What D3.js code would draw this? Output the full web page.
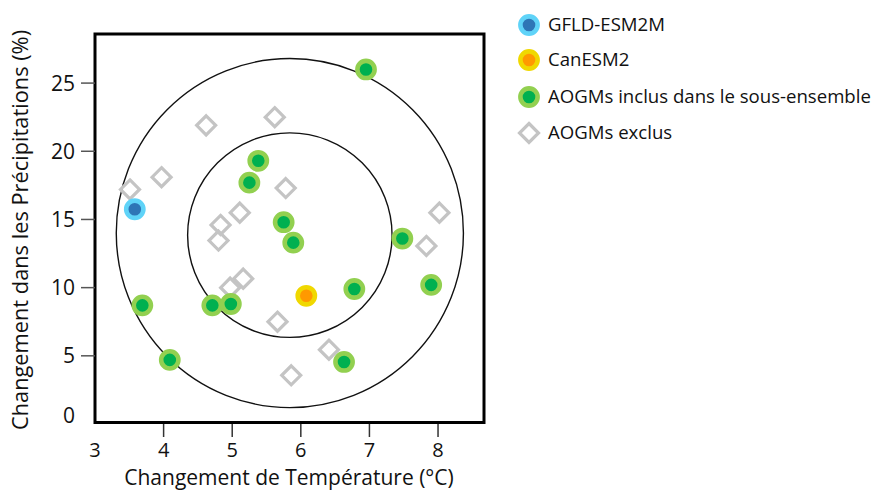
<!DOCTYPE html>
<html><head><meta charset="utf-8">
<script src="https://cdn.jsdelivr.net/npm/d3@7/dist/d3.min.js"></script>
<style>body{margin:0;background:#fff}svg{display:block}text{font-family:"Open Sans",sans-serif;fill:#111}</style>
</head><body><svg id="c" width="880" height="491"></svg>
<script>
const xTicks = [4, 5, 6, 7, 8];
const xTickLabels = ["3", "4", "5", "6", "7", "8"];
const yTicks = [5, 10, 15, 20, 25];
const yTickLabels = ["0", "5", "10", "15", "20", "25"];
const xTitle = "Changement de Température (°C)";
const yTitle = "Changement dans les Précipitations (%)";

const gfdlX = [3.58], gfdlY = [15.75];
const canX = [6.08], canY = [9.4];
const inclX = [6.95, 5.38, 5.25, 5.75, 5.89, 7.48, 7.90, 6.78, 3.69, 4.71, 4.98, 4.09, 6.63];
const inclY = [26.0, 19.3, 17.7, 14.8, 13.3, 13.6, 10.2, 9.9, 8.7, 8.7, 8.8, 4.7, 4.55];
const exclX = [4.62, 5.62, 3.97, 3.51, 5.78, 5.11, 4.83, 4.80, 8.02, 7.83, 5.16, 4.97, 5.66, 6.41, 5.86];
const exclY = [21.9, 22.5, 18.1, 17.2, 17.3, 15.5, 14.6, 13.45, 15.5, 13.06, 10.66, 10.0, 7.5, 5.45, 3.57];

// rings: centre and radii in data units
const ringCx = [5.84, 5.84], ringCy = [14.0, 13.85];
const ringRx = [2.53, 1.49], ringRy = [12.8, 7.5];

const legendLabels = ["GFLD-ESM2M", "CanESM2", "AOGMs inclus dans le sous-ensemble", "AOGMs exclus"];

const svg = d3.select("#c");
const L = 95, R = 484, T = 34, B = 424;
const x = d3.scaleLinear().domain([3, 8.67]).range([L, R]);
const y = d3.scaleLinear().domain([0, 28.6]).range([B, T]);

// rings
ringCx.forEach((cx, i) => {
  svg.append("ellipse").attr("cx", x(cx)).attr("cy", y(ringCy[i]))
    .attr("rx", x(cx + ringRx[i]) - x(cx)).attr("ry", y(0) - y(ringRy[i]))
    .attr("fill", "none").attr("stroke", "#111").attr("stroke-width", 1.4);
});

// box
svg.append("rect").attr("x", L).attr("y", T).attr("width", R - L).attr("height", B - T - 1.5)
  .attr("fill", "none").attr("stroke", "#000").attr("stroke-width", 3);

// x ticks
const xa = svg.append("g");
xTicks.forEach(t => xa.append("line").attr("x1", x(t)).attr("x2", x(t)).attr("y1", B).attr("y2", B + 13).attr("stroke", "#333").attr("stroke-width", 1.5));
xTickLabels.forEach(l => xa.append("text").attr("x", x(+l)).attr("y", 456.5).attr("text-anchor", "middle").attr("font-size", 20).text(l));
svg.append("text").attr("x", 289).attr("y", 485).attr("text-anchor", "middle").attr("font-size", 21).text(xTitle);

// y ticks
const ya = svg.append("g");
yTicks.forEach(t => ya.append("line").attr("x1", L - 14).attr("x2", L).attr("y1", y(t)).attr("y2", y(t)).attr("stroke", "#555").attr("stroke-width", 1.5));
yTickLabels.forEach(l => ya.append("text").attr("x", 75).attr("y", (+l === 0 ? y(0) - 9 : y(+l)) + 7.5).attr("text-anchor", "end").attr("font-size", 21).text(l));
svg.append("text").attr("transform", "translate(28,230) rotate(-90)").attr("text-anchor", "middle").attr("font-size", 21.8).text(yTitle);

// markers
function diamond(g, cx, cy) {
  const s = 9.5;
  g.append("path").attr("d", `M${cx},${cy - s}L${cx + s},${cy}L${cx},${cy + s}L${cx - s},${cy}Z`)
    .attr("fill", "none").attr("stroke", "#c4c4c4").attr("stroke-width", 3.2);
}
function dot(g, cx, cy, fill, ring) {
  g.append("circle").attr("cx", cx).attr("cy", cy).attr("r", 8.6)
    .attr("fill", fill).attr("stroke", ring).attr("stroke-width", 4.6);
}
const pts = svg.append("g");
exclX.forEach((v, i) => diamond(pts, x(v), y(exclY[i])));
inclX.forEach((v, i) => dot(pts, x(v), y(inclY[i]), "#00b050", "#92d050"));
gfdlX.forEach((v, i) => dot(pts, x(v), y(gfdlY[i]), "#2e75b6", "#5fd3f8"));
canX.forEach((v, i) => dot(pts, x(v), y(canY[i]), "#ff9900", "#f0d800"));

// legend
const lg = svg.append("g");
const ly = [25, 60, 97, 133];
dot(lg, 529, ly[0], "#2e75b6", "#5fd3f8");
dot(lg, 529, ly[1], "#ff9900", "#f0d800");
dot(lg, 529, ly[2], "#00b050", "#92d050");
diamond(lg, 529, ly[3]);
legendLabels.forEach((t, i) => lg.append("text").attr("x", 548).attr("y", ly[i] + 6).attr("font-size", 18.6).text(t));
</script></body></html>
